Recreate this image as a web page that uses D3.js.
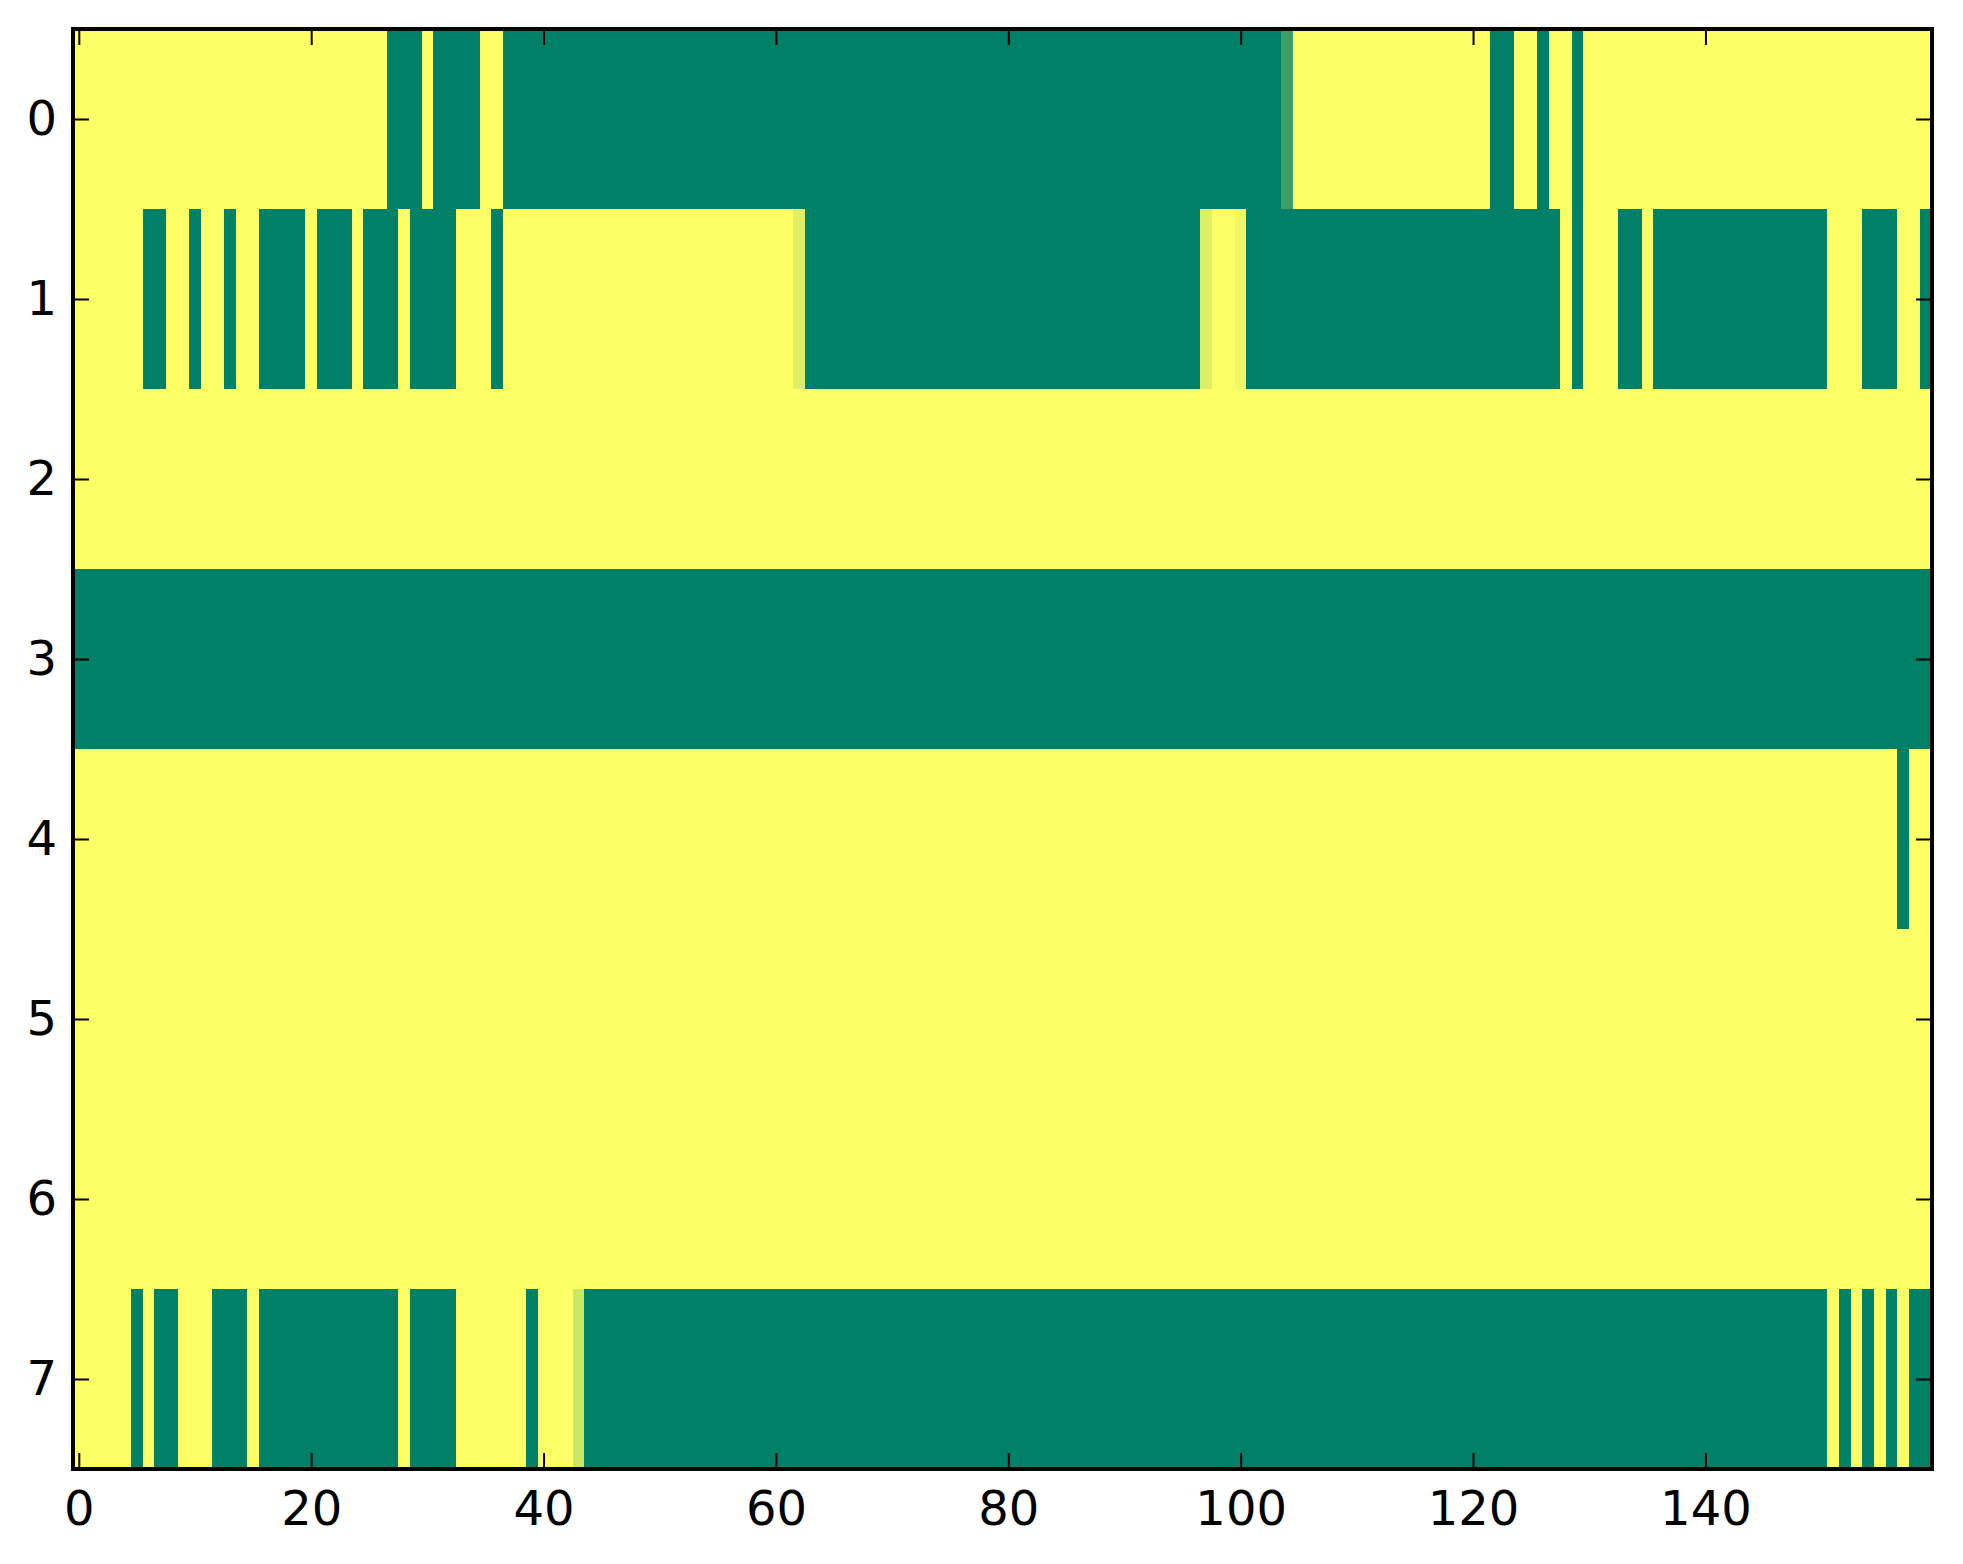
<!DOCTYPE html>
<html lang="en">
<head>
    <meta charset="UTF-8">
    <title>Heatmap</title>
    <script src="https://d3js.org/d3.v7.min.js"></script>
    <style>
        body { margin: 0; background: #fff; }
        text {
            font-family: "DejaVu Sans", sans-serif;
            font-size: 48px;
            fill: #000;
        }
        .cell { shape-rendering: crispEdges; }
    </style>
</head>
<body>
    <svg width="1963" height="1564"></svg>

    <script>
        // each row as runs of [value, count], read left to right (160 columns)
        const row0 = [[1,27],[0,3],[1,1],[0,4],[1,2],[0,67],[0.24,1],[1,17],[0,2],[1,2],[0,1],[1,2],[0,1],[1,30]];
        const row1 = [[1,6],[0,2],[1,2],[0,1],[1,2],[0,1],[1,2],[0,4],[1,1],[0,3],[1,1],[0,3],[1,1],[0,4],[1,3],[0,1],
                      [1,25],[0.87,1],[0,34],[0.87,1],[1,2],[0.94,1],[0,27],[1,1],[0,1],[1,3],[0,2],[1,1],[0,15],[1,3],[0,3],[1,2],[0,1]];
        const row2 = [[1,160]];
        const row3 = [[0,160]];
        const row4 = [[1,157],[0,1],[1,2]];
        const row5 = [[1,160]];
        const row6 = [[1,160]];
        const row7 = [[1,5],[0,1],[1,1],[0,2],[1,3],[0,3],[1,1],[0,12],[1,1],[0,4],[1,6],[0,1],[1,3],[0.8,1],
                      [0,107],[1,1],[0,1],[1,1],[0,1],[1,1],[0,1],[1,1],[0,2]];

        const rows = [row0, row1, row2, row3, row4, row5, row6, row7];
        const nCols = 160;
        const xTicks = [0, 20, 40, 60, 80, 100, 120, 140];
        const yTicks = [0, 1, 2, 3, 4, 5, 6, 7];

        const svg = d3.select("svg");
        const plotL = 73, plotR = 1932, plotT = 29, plotB = 1469;

        const x = d3.scaleLinear().domain([-0.5, nCols - 0.5]).range([plotL, plotR]);
        const y = d3.scaleLinear().domain([-0.5, rows.length - 0.5]).range([plotT, plotB]);
        // matplotlib "summer" colormap
        const color = d3.scaleLinear().domain([0, 1]).range(["#008066", "#ffff66"]);

        // expand runs into cells
        const cells = [];
        rows.forEach((runs, r) => {
            let c = 0;
            runs.forEach(([v, n]) => {
                for (let i = 0; i < n; i++) cells.push({ r: r, c: c++, v: v });
            });
        });

        svg.append("g")
            .selectAll("rect")
            .data(cells)
            .enter().append("rect")
            .attr("class", "cell")
            .attr("x", d => x(d.c - 0.5))
            .attr("y", d => y(d.r - 0.5))
            .attr("width", d => x(d.c + 0.5) - x(d.c - 0.5) + 0.6)
            .attr("height", d => y(d.r + 0.5) - y(d.r - 0.5) + 0.6)
            .attr("fill", d => color(d.v));

        // ticks point inward on all four sides
        const tickLen = 16;

        const gx = svg.append("g")
            .attr("transform", `translate(0,${plotB})`)
            .call(d3.axisBottom(x).tickValues(xTicks).tickSizeInner(-tickLen).tickSizeOuter(0).tickPadding(22));
        const gxTop = svg.append("g")
            .attr("transform", `translate(0,${plotT})`)
            .call(d3.axisTop(x).tickValues(xTicks).tickSizeInner(-tickLen).tickSizeOuter(0).tickFormat(""));
        const gy = svg.append("g")
            .attr("transform", `translate(${plotL},0)`)
            .call(d3.axisLeft(y).tickValues(yTicks).tickSizeInner(-tickLen).tickSizeOuter(0).tickPadding(16));
        const gyRight = svg.append("g")
            .attr("transform", `translate(${plotR},0)`)
            .call(d3.axisRight(y).tickValues(yTicks).tickSizeInner(-tickLen).tickSizeOuter(0).tickFormat(""));

        [gx, gxTop, gy, gyRight].forEach(g => {
            g.select(".domain").remove();
            g.selectAll("line").attr("stroke", "#000").attr("stroke-width", 2);
            g.selectAll("text")
                .style("font-family", "'DejaVu Sans', sans-serif")
                .style("font-size", "48px")
                .attr("fill", "#000");
        });

        // frame
        svg.append("rect")
            .attr("x", plotL)
            .attr("y", plotT)
            .attr("width", plotR - plotL)
            .attr("height", plotB - plotT)
            .attr("fill", "none")
            .attr("stroke", "#000")
            .attr("stroke-width", 4);
    </script>
</body>
</html>
